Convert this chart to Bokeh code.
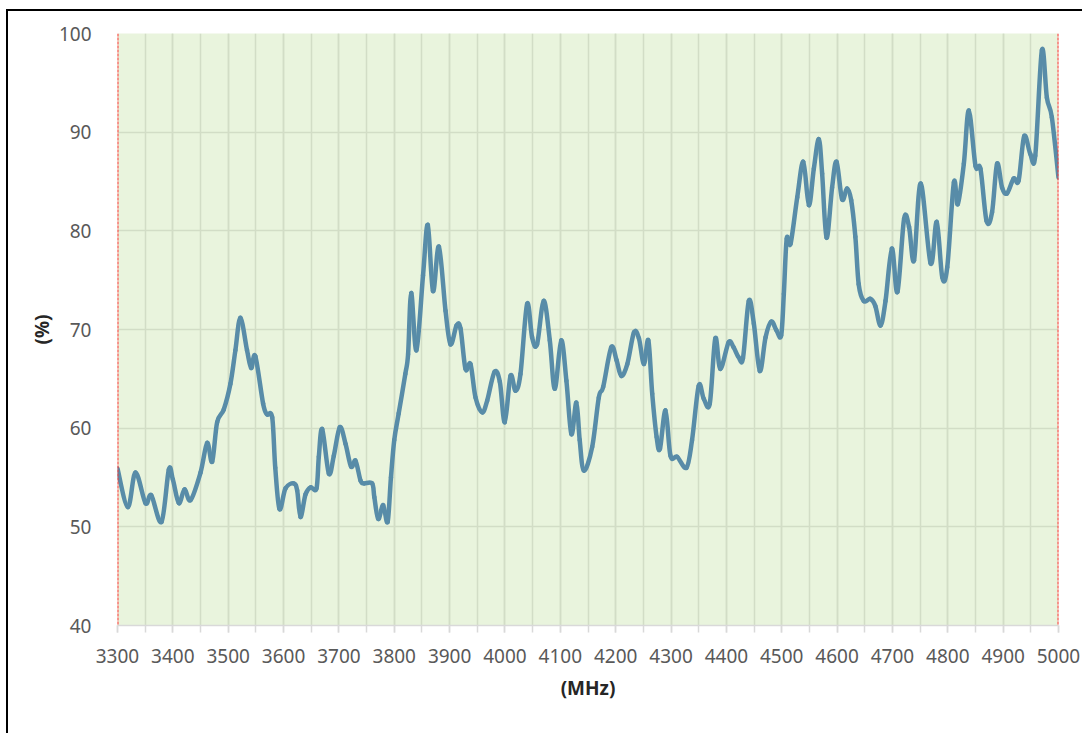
from bokeh.plotting import figure
from bokeh.models import SingleIntervalTicker, Range1d, Span
from bokeh.embed import file_html
from bokeh.resources import INLINE

freq_mhz = [3300, 3318.6, 3332.5, 3350.6, 3361, 3379.5, 3392.7, 3400, 3410.8, 3421, 3431.9,
            3450, 3462, 3471, 3480, 3492, 3504, 3513, 3522, 3534, 3541.5, 3549, 3563, 3570,
            3579.5, 3585, 3592.7, 3603.5, 3618.5, 3624.6, 3630.6, 3639.7, 3648.7, 3659.5,
            3663.7, 3669.8, 3681.8, 3690.8, 3701.7, 3712, 3722, 3730, 3739, 3745, 3760, 3764,
            3771, 3780, 3788, 3794, 3800, 3808, 3820, 3825, 3830.6, 3840, 3852, 3860.6, 3870,
            3880.6, 3892.6, 3901.6, 3912.5, 3919.7, 3928.7, 3937.7, 3946.8, 3958.9, 3967.9,
            3981, 3990.7, 3999.7, 4010, 4019, 4028, 4040, 4049, 4058, 4070, 4081, 4090, 4101.6,
            4111, 4120, 4129, 4135, 4142.5, 4157.6, 4169.5, 4177.5, 4192, 4201.5, 4210, 4221,
            4233, 4242, 4251, 4259, 4266, 4274, 4280, 4290, 4299, 4311, 4328, 4338, 4350, 4359,
            4370, 4380, 4389, 4404, 4413, 4422, 4430, 4440.5, 4449.6, 4460.4, 4470.7, 4481,
            4490.6, 4499, 4503.8, 4509, 4516, 4528, 4539, 4549, 4558, 4567, 4573, 4581, 4591,
            4599, 4609, 4618, 4625.5, 4633, 4639, 4648, 4660, 4669, 4678.5, 4687.5, 4699, 4709,
            4721, 4730, 4739, 4751, 4769, 4780, 4790, 4799, 4811, 4818, 4829, 4838, 4850, 4859,
            4870, 4880, 4889, 4898, 4907, 4919, 4928, 4938, 4949, 4958, 4970, 4979, 4988, 5000]
efficiency_pct = [55.9, 52.0, 55.5, 52.4, 53.2, 50.5, 55.8, 54.8, 52.4, 53.8, 52.7,
                  55.5, 58.5, 56.6, 60.6, 61.9, 64.5, 67.9, 71.2, 67.9, 66.1, 67.3, 62.5, 61.4,
                  61.1, 56.0, 51.8, 53.9, 54.4, 53.7, 51.0, 53.3, 54.0, 53.9,
                  57.1, 59.9, 55.4, 57.2, 60.1, 58.4, 56.1, 56.7, 54.7, 54.4, 54.4, 53.0,
                  50.8, 52.2, 50.5, 55.0, 58.8, 61.5, 65.5, 67.5, 73.7, 67.9, 75.5, 80.6, 73.9,
                  78.4, 71.9, 68.5, 70.4, 70.1, 66.0, 66.5, 63.1, 61.6, 62.8,
                  65.7, 64.7, 60.6, 65.3, 63.8, 65.5, 72.6, 69.2, 68.5, 72.9, 68.9, 64.0, 68.9,
                  64.8, 59.4, 62.6, 58.8, 55.7, 58.1, 63.1, 64.2, 68.2, 66.9, 65.3, 66.5,
                  69.7, 69.1, 66.5, 68.9, 63.5, 59.1, 57.9, 61.8, 57.2, 57.1, 56.0, 58.8, 64.3, 63.0,
                  62.5, 69.1, 66.0, 68.7, 68.2, 67.2, 67.1, 72.9, 70.6, 65.8, 69.2, 70.8,
                  69.9, 69.4, 73.6, 79.2, 78.7, 83.4, 87.0, 82.6, 86.3, 89.3, 85.8, 79.3, 84.4,
                  87.0, 83.2, 84.3, 83.1, 79.4, 74.6, 72.9, 73.1, 72.4, 70.4, 72.9, 78.2, 73.8,
                  81.2, 80.4, 77.0, 84.8, 76.7, 80.9, 75.3, 76.3, 84.9, 82.7, 86.8, 92.2, 86.6, 86.3,
                  81.0, 81.9, 86.8, 84.4, 83.8, 85.3, 85.1, 89.6, 87.8, 87.6, 98.3, 93.5, 91.5, 85.4]

x_min, x_max = 3300, 5000
y_min, y_max = 40, 100
band_edges = [3300, 5000]

# Smoothed line (like a spreadsheet "smoothed line"): cubic Bezier segments through the
# data points, control points from neighbouring points (Catmull-Rom style).
n = len(freq_mhz)
x0, y0, x1, y1, cx0, cy0, cx1, cy1 = [], [], [], [], [], [], [], []
for i in range(n - 1):
    xa, ya = freq_mhz[i], efficiency_pct[i]
    xb, yb = freq_mhz[i + 1], efficiency_pct[i + 1]
    xp, yp = (freq_mhz[i - 1], efficiency_pct[i - 1]) if i > 0 else (xa, ya)
    xn, yn = (freq_mhz[i + 2], efficiency_pct[i + 2]) if i + 2 < n else (xb, yb)
    t = 1 / 6
    x0.append(xa); y0.append(ya); x1.append(xb); y1.append(yb)
    cx0.append(xa + (xb - xp) * t); cy0.append(ya + (yb - yp) * t)
    cx1.append(xb - (xn - xa) * t); cy1.append(yb - (yn - ya) * t)

p = figure(width=1076, height=724, output_backend="svg", toolbar_location=None,
           x_range=Range1d(x_min, x_max), y_range=Range1d(y_min, y_max),
           min_border_left=109, min_border_right=26, min_border_top=22, min_border_bottom=110)
p.styles = {"border-top": "2px solid #000", "border-left": "2px solid #000",
            "margin-left": "6px", "margin-top": "9px"}

p.background_fill_color = "#E9F4DD"
p.border_fill_color = "white"
p.outline_line_color = None

p.xaxis.ticker = SingleIntervalTicker(interval=100, num_minor_ticks=2)
p.yaxis.ticker = SingleIntervalTicker(interval=10, num_minor_ticks=0)

grid_col = "#D2DDC6"
p.xgrid.grid_line_color = grid_col
p.xgrid.grid_line_width = 1.5
p.xgrid.minor_grid_line_color = grid_col
p.xgrid.minor_grid_line_width = 1.5
p.ygrid.grid_line_color = grid_col
p.ygrid.grid_line_width = 1.5

for ax in (p.xaxis, p.yaxis):
    ax.major_label_text_font = "Noto Sans"
    ax.major_label_text_font_size = "19px"
    ax.major_label_text_color = "#595959"
    ax.axis_label_text_font = "Noto Sans"
    ax.axis_label_text_font_size = "19px"
    ax.axis_label_text_font_style = "bold"
    ax.axis_label_text_color = "#262626"

p.xaxis.axis_line_color = "#D9D9D9"
p.xaxis.axis_line_width = 1.5
p.xaxis.major_tick_line_color = "#D9D9D9"
p.xaxis.minor_tick_line_color = "#D9D9D9"
p.xaxis.major_tick_line_width = 1.5
p.xaxis.minor_tick_line_width = 1.5
p.xaxis.major_tick_out = 7
p.xaxis.major_tick_in = 0
p.xaxis.minor_tick_out = 7
p.xaxis.minor_tick_in = 0
p.xaxis.major_label_standoff = 16
p.xaxis.axis_label = "(MHz)"
p.xaxis.axis_label_standoff = 9

p.yaxis.axis_line_color = None
p.yaxis.major_tick_line_color = None
p.yaxis.minor_tick_line_color = None
p.yaxis.major_label_standoff = 20
p.yaxis.axis_label = "(%)"
p.yaxis.axis_label_standoff = 1

p.bezier(x0=x0, y0=y0, x1=x1, y1=y1, cx0=cx0, cy0=cy0, cx1=cx1, cy1=cy1,
         line_color="#588CA8", line_width=4.5, line_cap="round")

for edge in band_edges:
    p.add_layout(Span(location=edge, dimension="height", line_color="#FF3333",
                      line_width=2, line_dash="3 1"))

open("out.html", "w").write(file_html(p, INLINE))
